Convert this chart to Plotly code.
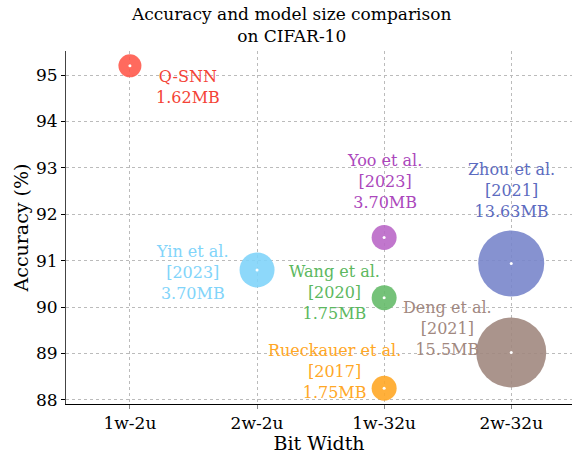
import plotly.graph_objects as go

categories = ["1w-2u", "2w-2u", "1w-32u", "2w-32u"]
methods = ["Q-SNN", "Yin et al.", "Yoo et al.", "Wang et al.", "Rueckauer et al.", "Zhou et al.", "Deng et al."]
years = ["", "2023", "2023", "2020", "2017", "2021", "2021"]
bit_width = ["1w-2u", "2w-2u", "1w-32u", "1w-32u", "1w-32u", "2w-32u", "2w-32u"]
accuracy = [95.2, 90.8, 91.5, 90.2, 88.25, 90.94, 89.02]
model_size = ["1.62MB", "3.70MB", "3.70MB", "1.75MB", "1.75MB", "13.63MB", "15.5MB"]

# styling
marker_px = [23, 35, 25, 25, 25, 66, 70]
colors = ["#FF5A4C", "#81D4FA", "#BA68C8", "#66BB6A", "#FFA726", "#7986CB", "#A1887F"]
text_colors = ["#F44336", "#81D4FA", "#AB47BC", "#5CB860", "#FFA726", "#5C6BC0", "#A1887F"]
label_shift = [(58, -21), (-65, -3), (0, 56), (-50, 5), (-50, 17), (0, 73), (-64, 24)]

FONT = "DejaVu Serif"
cat_idx = {c: i for i, c in enumerate(categories)}

fig = go.Figure()
fig.add_trace(go.Scatter(
    x=[cat_idx[b] for b in bit_width], y=accuracy, mode="markers",
    marker=dict(size=marker_px, color=colors, opacity=0.9, line=dict(width=0)),
    hoverinfo="skip", showlegend=False))
fig.add_trace(go.Scatter(
    x=[cat_idx[b] for b in bit_width], y=accuracy, mode="markers",
    marker=dict(size=3, color="white"), hoverinfo="skip", showlegend=False))

for m, yr, b, a, s, tc, (dx, dy) in zip(methods, years, bit_width, accuracy, model_size, text_colors, label_shift):
    lines = [m] + ([f"[{yr}]"] if yr else []) + [s]
    fig.add_annotation(x=cat_idx[b], y=a, text="<br>".join(lines), showarrow=False,
                       xshift=dx, yshift=dy, align="center",
                       font=dict(family=FONT, size=16, color=tc))

fig.update_layout(
    width=572, height=454,
    margin=dict(l=66, r=0, t=51, b=50, autoexpand=False),
    plot_bgcolor="white", paper_bgcolor="white",
    font=dict(family=FONT, size=17, color="black"),
    title=dict(text="Accuracy and model size comparison<br>on CIFAR-10", x=0.51, xanchor="center",
               y=0.956, yanchor="top", font=dict(family=FONT, size=17)),
)
fig.update_xaxes(
    range=[-0.503, 3.478], tickmode="array", tickvals=list(range(len(categories))), ticktext=categories,
    showline=True, linecolor="black", linewidth=1, ticks="outside", ticklen=4, tickcolor="#888",
    showgrid=True, gridcolor="#bbbbbb", griddash="dot", gridwidth=1, zeroline=False, automargin=False,
    title=dict(text="Bit Width", standoff=2, font=dict(family=FONT, size=19, color="black")),
    tickfont=dict(size=17))
fig.update_yaxes(
    range=[87.91, 95.52], tickvals=[88, 89, 90, 91, 92, 93, 94, 95],
    showline=True, linecolor="#444", linewidth=1, ticks="outside", ticklen=4, tickcolor="black",
    showgrid=True, gridcolor="#bbbbbb", griddash="dot", gridwidth=1, zeroline=False, automargin=False,
    title=dict(text="Accuracy (%)", standoff=2, font=dict(family=FONT, size=19, color="black")),
    tickfont=dict(size=17))

fig.write_html("out.html", config={"displayModeBar": False},
               post_script="document.body.style.margin='0';")
